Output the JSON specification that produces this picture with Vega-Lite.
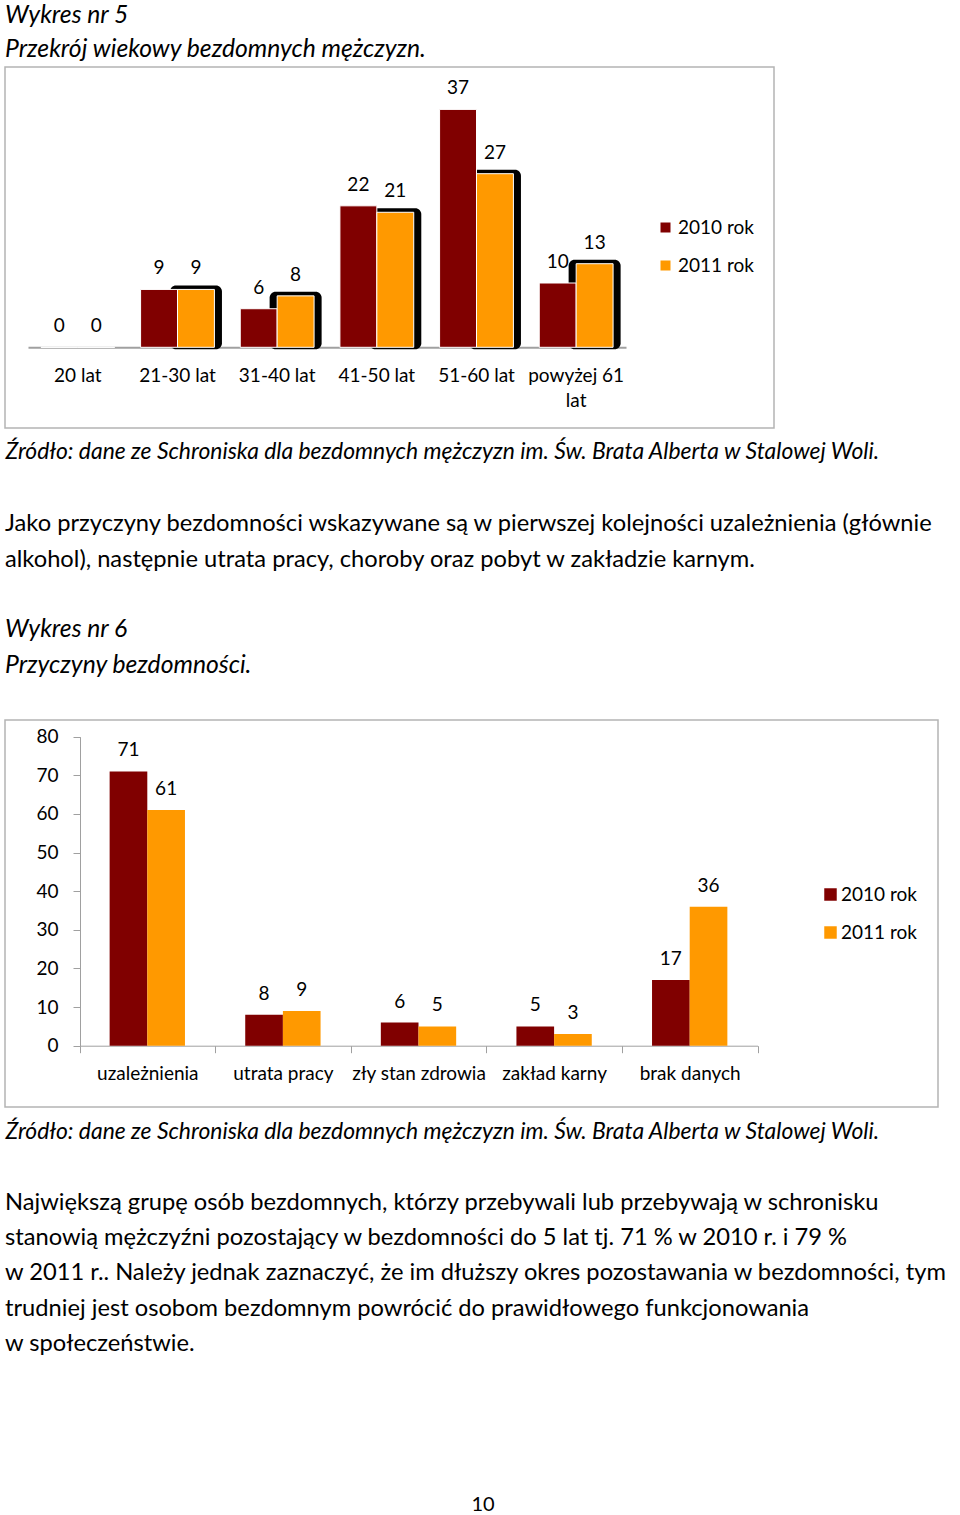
{
  "$schema": "https://vega.github.io/schema/vega-lite/v6.json",
  "background": "white",
  "padding": {"left": 4, "top": 2, "right": 0, "bottom": 0},
  "datasets": {
    "age": [
      {"age": "20 lat", "year": "2010 rok", "count": 0},
      {"age": "20 lat", "year": "2011 rok", "count": 0},
      {"age": "21-30 lat", "year": "2010 rok", "count": 9},
      {"age": "21-30 lat", "year": "2011 rok", "count": 9},
      {"age": "31-40 lat", "year": "2010 rok", "count": 6},
      {"age": "31-40 lat", "year": "2011 rok", "count": 8},
      {"age": "41-50 lat", "year": "2010 rok", "count": 22},
      {"age": "41-50 lat", "year": "2011 rok", "count": 21},
      {"age": "51-60 lat", "year": "2010 rok", "count": 37},
      {"age": "51-60 lat", "year": "2011 rok", "count": 27},
      {"age": "powyżej 61 lat", "year": "2010 rok", "count": 10},
      {"age": "powyżej 61 lat", "year": "2011 rok", "count": 13}
    ],
    "causes": [
      {"cause": "uzależnienia", "year": "2010 rok", "count": 71},
      {"cause": "uzależnienia", "year": "2011 rok", "count": 61},
      {"cause": "utrata pracy", "year": "2010 rok", "count": 8},
      {"cause": "utrata pracy", "year": "2011 rok", "count": 9},
      {"cause": "zły stan zdrowia", "year": "2010 rok", "count": 6},
      {"cause": "zły stan zdrowia", "year": "2011 rok", "count": 5},
      {"cause": "zakład karny", "year": "2010 rok", "count": 5},
      {"cause": "zakład karny", "year": "2011 rok", "count": 3},
      {"cause": "brak danych", "year": "2010 rok", "count": 17},
      {"cause": "brak danych", "year": "2011 rok", "count": 36}
    ],
    "page": [{"page": "10"}]
  },
  "config": {
    "font": "Lato",
    "view": {"stroke": "#b4b4b4", "strokeWidth": 1.5},
    "axis": {
      "labelFont": "Lato", "labelFontSize": 19, "labelColor": "black",
      "domainColor": "#a0a0a0", "tickColor": "#a0a0a0", "grid": false,
      "titleFont": "Lato", "titleColor": "black", "titleFontWeight": "normal"
    },
    "legend": {
      "labelFont": "Lato", "labelFontSize": 19, "labelColor": "black",
      "symbolType": "square", "symbolStrokeWidth": 0, "padding": 0
    },
    "title": {
      "font": "Lato", "color": "black", "subtitleFont": "Lato", "subtitleColor": "black",
      "anchor": "start", "frame": "group", "fontWeight": "normal"
    },
    "text": {"font": "Lato", "fontSize": 19, "color": "black"}
  },
  "bounds": "flush",
  "spacing": 292,
  "resolve": {
    "scale": {"x": "independent", "y": "independent", "xOffset": "independent", "color": "independent"},
    "axis": {"x": "independent", "y": "independent"},
    "legend": {"color": "independent"}
  },
  "vconcat": [
    {
      "width": 769,
      "height": 361,
      "data": {"name": "age"},
      "title": {
        "text": ["Wykres nr 5", "Przekrój wiekowy bezdomnych mężczyzn."],
        "fontStyle": "italic", "fontSize": 24.7, "lineHeight": 34, "offset": 5
      },
      "encoding": {
        "x": {
          "field": "age", "type": "nominal",
          "sort": ["20 lat", "21-30 lat", "31-40 lat", "41-50 lat", "51-60 lat", "powyżej 61 lat"],
          "scale": {"range": [23, 621], "paddingInner": 0, "paddingOuter": 0},
          "axis": {
            "orient": "bottom", "offset": -80.7, "ticks": false, "labelAngle": 0,
            "labelPadding": 19, "labelLineHeight": 25, "domainWidth": 2,
            "labelExpr": "datum.value == 'powyżej 61 lat' ? ['powyżej 61', 'lat'] : datum.label",
            "title": "Źródło: dane ze Schroniska  dla bezdomnych mężczyzn im. Św. Brata Alberta w Stalowej Woli.",
            "titleFontStyle": "italic", "titleFontSize": 22.9, "titleX": 0, "titleY": 104,
            "titleAlign": "left", "titleAnchor": "start", "titleBaseline": "middle", "titleLimit": 2000
          }
        },
        "xOffset": {"field": "year", "type": "nominal", "scale": {"paddingInner": 0, "paddingOuter": 0.35}},
        "y": {
          "field": "count", "type": "quantitative",
          "scale": {"domain": [0, 40], "range": [280.3, 23.1], "nice": false},
          "axis": null
        }
      },
      "layer": [
        {
          "transform": [{"filter": "datum.year == '2011 rok' && datum.count > 0"}],
          "mark": {"type": "bar", "color": "black", "width": 52, "yOffset": -4, "y2Offset": 2, "cornerRadius": 6},
          "encoding": {"y2": {"datum": 0}}
        },
        {
          "mark": {"type": "bar", "stroke": "white", "strokeWidth": 1},
          "encoding": {
            "color": {
              "field": "year", "type": "nominal",
              "scale": {"domain": ["2010 rok", "2011 rok"], "range": ["#800000", "#ff9900"]},
              "legend": {
                "title": null, "orient": "none", "legendX": 651, "legendY": 151,
                "symbolSize": 100, "rowPadding": 18, "labelOffset": 3
              }
            }
          }
        },
        {
          "mark": {"type": "text", "baseline": "alphabetic", "dy": -15},
          "encoding": {"text": {"field": "count", "type": "quantitative"}}
        }
      ]
    },
    {
      "bounds": "flush",
      "spacing": 388,
      "resolve": {
        "scale": {"x": "independent", "y": "independent", "xOffset": "independent", "color": "independent"},
        "axis": {"x": "independent", "y": "independent"},
        "legend": {"color": "independent"}
      },
      "vconcat": [
        {
          "width": 933,
          "height": 387,
          "data": {"name": "causes"},
          "title": {
            "text": [
              "Jako przyczyny bezdomności wskazywane są w pierwszej kolejności uzależnienia (głównie",
              "alkohol), następnie utrata pracy, choroby oraz pobyt w zakładzie karnym."
            ],
            "subtitle": ["Wykres nr 6", "Przyczyny bezdomności."],
            "fontStyle": "normal", "fontSize": 23.7, "lineHeight": 35.5,
            "subtitleFontStyle": "italic", "subtitleFontSize": 24.7, "subtitleLineHeight": 36,
            "subtitlePadding": 46, "offset": 42
          },
          "encoding": {
            "x": {
              "field": "cause", "type": "nominal",
              "sort": ["uzależnienia", "utrata pracy", "zły stan zdrowia", "zakład karny", "brak danych"],
              "scale": {"range": [74.5, 752.5], "paddingInner": 0, "paddingOuter": 0},
              "axis": {
                "orient": "bottom", "offset": -61.3, "labelAngle": 0, "tickBand": "extent",
                "tickSize": 7, "labelPadding": 12,
                "title": "Źródło: dane ze Schroniska  dla bezdomnych mężczyzn im. Św. Brata Alberta w Stalowej Woli.",
                "titleFontStyle": "italic", "titleFontSize": 22.9, "titleX": 0, "titleY": 85.3,
                "titleAlign": "left", "titleAnchor": "start", "titleBaseline": "middle", "titleLimit": 2000
              }
            },
            "xOffset": {"field": "year", "type": "nominal", "scale": {"paddingInner": 0, "paddingOuter": 0.8}},
            "y": {
              "field": "count", "type": "quantitative",
              "scale": {"domain": [0, 80], "range": [325.7, 16.7], "nice": false},
              "axis": {
                "orient": "left", "offset": -75, "values": [0, 10, 20, 30, 40, 50, 60, 70, 80],
                "tickSize": 7, "labelPadding": 15, "title": null
              }
            }
          },
          "layer": [
            {
              "mark": {"type": "bar"},
              "encoding": {
                "color": {
                  "field": "year", "type": "nominal",
                  "scale": {"domain": ["2010 rok", "2011 rok"], "range": ["#800000", "#ff9900"]},
                  "legend": {
                    "title": null, "orient": "none", "legendX": 816, "legendY": 165,
                    "symbolSize": 156, "rowPadding": 18, "labelOffset": 1
                  }
                }
              }
            },
            {
              "mark": {"type": "text", "baseline": "alphabetic", "dy": -15},
              "encoding": {"text": {"field": "count", "type": "quantitative"}}
            }
          ]
        },
        {
          "width": 956,
          "height": 20,
          "view": {"stroke": null},
          "data": {"name": "page"},
          "title": {
            "text": [
              "\u2003\u2003\u2003\u2009Największą grupę osób bezdomnych, którzy przebywali lub przebywają w schronisku",
              "stanowią mężczyźni pozostający w bezdomności do 5 lat tj. 71 % w 2010 r. i 79 %",
              "w 2011 r.. Należy jednak zaznaczyć, że im dłuższy okres pozostawania w bezdomności, tym",
              "trudniej jest osobom bezdomnym powrócić do prawidłowego funkcjonowania",
              "w społeczeństwie."
            ],
            "fontStyle": "normal", "fontSize": 23.7, "lineHeight": 35.25, "offset": 139.5
          },
          "mark": {"type": "text", "fontSize": 20, "baseline": "middle"},
          "encoding": {"text": {"field": "page", "type": "nominal"}}
        }
      ]
    }
  ]
}
